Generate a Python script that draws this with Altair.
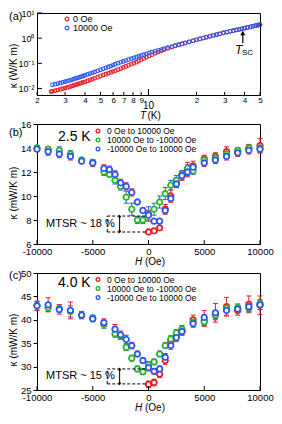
import altair as alt
import pandas as pd

FONT = "Liberation Sans"
RED = "#ec1c24"
GREEN = "#27b427"
BLUE = "#2957f7"

# ---------------- panel (a): kappa vs T ----------------
T_blue = [2.5, 2.6, 2.7, 2.8, 2.9, 3.0, 3.1, 3.2, 3.3, 3.4, 3.5, 3.6, 3.7, 3.8, 3.9, 4.0, 4.15,
          4.3, 4.45, 4.6, 4.8, 5.0, 5.2, 5.4, 5.6, 5.8, 6.0, 6.2, 6.45, 6.7, 6.95, 7.2, 7.5, 7.8,
          8.1, 8.4, 8.7, 9.0, 9.35, 9.7, 10.1, 10.5, 11.0, 11.5, 12.0, 12.5, 13.2, 14, 14.7, 15.5,
          16.2, 17, 18, 19, 20, 21, 22, 23, 24.2, 25.5, 26.7, 28, 29.5, 31, 32.5, 34, 35.5, 37,
          38.5, 40, 41.7, 43.5, 45.2, 47, 48.5, 50]
K_blue = [0.0140, 0.0148, 0.0157, 0.0166, 0.0176, 0.0186, 0.0197, 0.0208, 0.0221, 0.0235, 0.0250,
          0.0265, 0.0281, 0.0298, 0.0315, 0.0333, 0.0361, 0.0390, 0.0422, 0.0455, 0.0502, 0.0550,
          0.0604, 0.0660, 0.0720, 0.0780, 0.0850, 0.0920, 0.101, 0.110, 0.119, 0.129, 0.141,
          0.153, 0.165, 0.178, 0.191, 0.205, 0.221, 0.238, 0.257, 0.277, 0.302, 0.328, 0.354,
          0.381, 0.420, 0.465, 0.510, 0.555, 0.600, 0.650, 0.720, 0.790, 0.865, 0.940, 1.015,
          1.09, 1.19, 1.29, 1.39, 1.49, 1.62, 1.74, 1.87, 1.99, 2.12, 2.24, 2.37, 2.50, 2.66,
          2.82, 2.98, 3.15, 3.30, 3.45]
T_red = [2.45] + T_blue
K_red = [0.0075, 0.0077, 0.0082, 0.0087, 0.0092, 0.0098, 0.0104, 0.0110, 0.0116, 0.0124, 0.0132,
         0.0140, 0.0148, 0.0157, 0.0166, 0.0175, 0.0185, 0.0200, 0.0215, 0.0235, 0.0255, 0.0282,
         0.0310, 0.0340, 0.0370, 0.0402, 0.0435, 0.0472, 0.0510, 0.0563, 0.0620, 0.0683, 0.0750,
         0.0833, 0.0920, 0.101, 0.111, 0.125, 0.140, 0.157, 0.175, 0.197, 0.220, 0.250, 0.280,
         0.312, 0.345, 0.392, 0.440, 0.490, 0.540, 0.588, 0.640, 0.712, 0.782, 0.858, 0.933,
         1.008, 1.083, 1.183, 1.283, 1.383, 1.48, 1.61, 1.73, 1.86, 1.98, 2.11, 2.23, 2.36,
         2.49, 2.65, 2.81, 2.97, 3.14, 3.29, 3.44]
A_SERIES = ["0 Oe", "10000 Oe"]
A_XTICKS = [2, 3, 4, 5, 6, 7, 8, 9, 20, 30, 40, 50]
A_YTICKS = [0.01, 0.1, 1, 10]
T_ARROW = [39]

# ---------------- panel (b): 2.5 K ----------------
H_b = [-10000, -9000, -8000, -7000, -6000, -5000, -4000, -3500, -3000, -2500, -2000, -1500, -1000,
       -500, 0, 500, 1000, 1500, 2000, 2500, 3000, 3500, 4000, 5000, 6000, 7000, 8000, 9000, 10000]
G_b = [14.0, 13.9, 13.8, 13.5, 13.0, 12.8, 12.0, 11.8, 11.3, 10.8, 9.9, 8.9, 8.0, 8.0, 8.5, 8.9,
       9.5, 10.2, 10.9, 11.3, 11.8, 12.3, 12.1, 13.0, 13.2, 13.5, 13.8, 14.0, 14.0]
B_b = [13.9, 13.7, 13.5, 13.3, 12.9, 12.75, 12.3, 12.2, 11.8, 11.1, 10.8, 10.3, 9.5, 8.8, 8.4,
       7.9, 7.9, 8.8, 9.8, 11.0, 11.7, 12.0, 12.4, 12.75, 13.0, 13.3, 13.6, 13.8, 13.9]
R_b = [None] * 14 + [7.0, 7.1, 7.35, 8.9, 10.0, 11.1, 11.7, 12.2, 12.5, 13.1, 13.3, 13.7, 13.7,
                     14.0, 14.2]
Ge_b = [0.2, 0.2, 0.3, 0.3, 0.2, 0.2, 0.3, 0.2, 0.3, 0.3, 0.5, 0.5, 0.3, 0.3, 0.6, 0.5, 0.5, 0.5,
        0.4, 0.4, 0.3, 0.3, 0.3, 0.3, 0.3, 0.3, 0.2, 0.2, 0.2]
Be_b = [0.2, 0.3, 0.3, 0.3, 0.2, 0.3, 0.3, 0.3, 0.3, 0.3, 0.3, 0.3, 0.2, 0.2, 0.4, 0.2, 0.2, 0.3,
        0.3, 0.3, 0.3, 0.3, 0.3, 0.3, 0.3, 0.3, 0.3, 0.3, 0.3]
Re_b = [None] * 14 + [0.2, 0.2, 0.2, 0.4, 0.5, 0.4, 0.4, 0.6, 0.4, 0.3, 0.3, 0.4, 0.3, 0.3, 0.6]

# ---------------- panel (c): 4.0 K ----------------
H_c = [-10000, -9000, -8000, -7000, -6000, -5000, -4000, -3000, -2500, -2000, -1500, -1000, -500,
       0, 500, 1000, 1500, 2000, 2500, 3000, 4000, 5000, 6000, 7000, 8000, 9000, 10000]
G_c = [43.1, 42.6, 42.4, 41.8, 41.0, 40.4, 39.0, 37.0, 36.5, 34.1, 31.8, 29.5, 28.9, 30.4, 31.0,
       32.7, 34.5, 35.9, 37.2, 38.0, 39.5, 39.6, 41.0, 42.5, 42.6, 42.5, 43.5]
B_c = [43.0, 43.2, 42.2, 42.0, 41.0, 40.2, 39.4, 38.0, 36.8, 35.8, 34.5, 32.7, 31.3, 29.8, 29.0,
       29.5, 32.0, 34.5, 36.2, 37.5, 39.2, 40.5, 41.5, 42.0, 42.3, 42.8, 43.2]
R_c = [None] * 13 + [26.2, 26.6, 28.4, 31.3, 35.3, 36.6, 37.6, 40.0, 39.8, 41.0, 42.8, 42.0, 43.3,
                     43.1]
Ge_c = [0.8, 0.8, 0.8, 1.2, 0.7, 0.6, 0.8, 0.7, 0.7, 0.7, 0.6, 0.6, 0.6, 0.7, 0.6, 0.6, 0.6, 0.7,
        0.7, 0.8, 0.8, 0.8, 0.8, 0.8, 0.8, 0.8, 0.8]
Be_c = [1.0, 1.5, 1.0, 1.8, 0.8, 0.6, 0.8, 1.0, 0.8, 0.9, 0.7, 0.6, 0.6, 0.7, 0.6, 0.6, 0.8, 0.8,
        0.8, 0.8, 0.8, 1.5, 2.0, 1.0, 0.8, 1.0, 1.0]
Re_c = [None] * 13 + [0.7, 0.7, 0.7, 0.8, 0.7, 0.7, 0.8, 1.0, 1.2, 1.0, 2.0, 1.0, 1.8, 2.0]

SWEEPS = ["0 Oe to 10000 Oe", "10000 Oe to -10000 Oe", "-10000 Oe to 10000 Oe"]
H_TICKS = [-10000, -5000, 0, 5000, 10000]

W = 223
HA, HB, HC = 82, 120, 117
ONE = pd.DataFrame({"z": [0]})


def txt(s, x, y, size=10, align="left", italic=False, angle=0, baseline="middle"):
    return alt.Chart(ONE).mark_text(
        text=s, font=FONT, fontSize=size, align=align, baseline=baseline, angle=angle,
        fontStyle="italic" if italic else "normal", color="black"
    ).encode(x=alt.value(x), y=alt.value(y))


def circ(x, y, color, size=22, sw=1.5):
    return alt.Chart(ONE).mark_point(shape="circle", fill="white", fillOpacity=1, stroke=color,
                                     strokeWidth=sw, size=size, opacity=1).encode(
        x=alt.value(x), y=alt.value(y))


# ---------- panel (a) ----------
xa_scale = alt.Scale(type="log", domain=[2, 50], nice=False)
ya_scale = alt.Scale(type="log", domain=[0.0055, 10], nice=False)
AXA_X = alt.Axis(
    values=A_XTICKS + [10], tickSize=0, labelPadding=1, labelFontSize=8, title=None, grid=False,
    labelFlush=False, labelOverlap=False, labelBound=False,
    labelExpr="datum.value == 10 ? '' : (datum.value > 10 ? '' + (datum.value / 10) : '' + datum.value)")
AXA_Y = alt.Axis(
    values=A_YTICKS, tickSize=0, labelPadding=3, labelFontSize=9, title=None, grid=False,
    labelOverlap=False,
    labelExpr="datum.value < 0.05 ? '10⁻²' : datum.value < 0.5 ? '10⁻¹' : datum.value < 5 ? '10⁰' : '10¹'")


def xa(f):
    return alt.X(f, type="quantitative", scale=xa_scale, axis=AXA_X)


def ya(f):
    return alt.Y(f, type="quantitative", scale=ya_scale, axis=AXA_Y)


dfa = pd.DataFrame({
    "T": T_red + T_blue,
    "k": K_red + K_blue,
    "s": [A_SERIES[0]] * len(T_red) + [A_SERIES[1]] * len(T_blue),
})
pts_a = alt.Chart(dfa).mark_point(shape="circle", filled=False, size=13, strokeWidth=1.1,
                                  opacity=1).encode(
    x=xa("T"), y=ya("k"),
    color=alt.Color("s:N", scale=alt.Scale(domain=A_SERIES, range=[RED, BLUE]), legend=None),
)
tick_a_x = alt.Chart(pd.DataFrame({"T": A_XTICKS})).mark_rule(color="black").encode(
    x=xa("T"), y=alt.value(HA), y2=alt.value(HA - 3))
tick_a_x10 = alt.Chart(pd.DataFrame({"T": [10]})).mark_rule(color="black").encode(
    x=xa("T"), y=alt.value(HA), y2=alt.value(HA - 6))
tick_a_y = alt.Chart(pd.DataFrame({"k": A_YTICKS})).mark_rule(color="black").encode(
    y=ya("k"), x=alt.value(0), x2=alt.value(5))
arrow_df = pd.DataFrame({"T": T_ARROW})
arrow_shaft = alt.Chart(arrow_df).mark_rule(color="black", strokeWidth=1.2).encode(
    x=xa("T"), y=alt.value(30), y2=alt.value(20))
arrow_head = alt.Chart(arrow_df).mark_point(shape="triangle-up", filled=True, color="black",
                                            size=25, opacity=1).encode(x=xa("T"), y=alt.value(20))
ten_label = alt.Chart(pd.DataFrame({"T": [10]})).mark_text(
    text="10", font=FONT, fontSize=10, align="center", baseline="middle", color="black").encode(
    x=xa("T"), y=alt.value(HA + 11))
pa = alt.layer(
    pts_a, tick_a_x, tick_a_x10, tick_a_y, arrow_shaft, arrow_head, ten_label,
    circ(30, 6, RED, size=14, sw=1.2), circ(30, 15, BLUE, size=14, sw=1.2),
    txt("0 Oe", 36, 6, size=9), txt("10000 Oe", 36, 15, size=9),
    txt("T", 198, 37, size=12, italic=True), txt("SC", 205, 40, size=8),
    txt("T", 103, HA + 21, size=10, italic=True), txt("(K)", 110.5, HA + 21, size=10),
    txt("κ (W/K m)", -23, 53, size=10, align="center", angle=270),
    txt("(a)", -28, 4, size=11),
).properties(width=W, height=HA)


# ---------- panels (b), (c) ----------
def sweep_panel(H, R, G, B, Re, Ge, Be, ydom, yvals, h, tag, temp, mtsr, box, label_ys,
                temp_y, tag_y, mtsr_k):
    rows = []
    for name, vals, errs in zip(SWEEPS, [R, G, B], [Re, Ge, Be]):
        for hv, v, e in zip(H, vals, errs):
            if v is None:
                continue
            rows.append({"H": hv, "k": v, "lo": v - e, "hi": v + e, "s": name})
    df = pd.DataFrame(rows)
    xs = alt.Scale(domain=[-10000, 10000], nice=False, zero=False)
    ys = alt.Scale(domain=ydom, nice=False, zero=False)
    cs = alt.Scale(domain=SWEEPS, range=[RED, GREEN, BLUE])
    AX = alt.Axis(values=H_TICKS, tickSize=0, labelPadding=2, labelFontSize=9.5, title=None,
                  grid=False, labelFlush=False, labelOverlap=False,
                  labelExpr="'' + datum.value")
    AY = alt.Axis(values=yvals, tickSize=4, labelPadding=2, labelFontSize=9.5, title=None,
                  grid=False, labelOverlap=False)

    def xe(f):
        return alt.X(f, type="quantitative", scale=xs, axis=AX)

    def ye(f):
        return alt.Y(f, type="quantitative", scale=ys, axis=AY)

    col = alt.Color("s:N", scale=cs, legend=None)
    base = alt.Chart(df)
    err = base.mark_rule(strokeWidth=1).encode(x=xe("H"), y=ye("lo"), y2="hi:Q", color=col)
    cap_lo = base.mark_tick(orient="horizontal", size=5, thickness=1, opacity=1).encode(
        x=xe("H"), y=ye("lo"), color=col)
    cap_hi = base.mark_tick(orient="horizontal", size=5, thickness=1, opacity=1).encode(
        x=xe("H"), y=ye("hi"), color=col)
    pts = base.mark_point(shape="circle", fill="white", fillOpacity=1, strokeWidth=1.8, size=30,
                          opacity=1).encode(
        x=xe("H"), y=ye("k"), stroke=alt.Stroke("s:N", scale=cs, legend=None))
    ticks = alt.Chart(pd.DataFrame({"H": H_TICKS})).mark_rule(color="black").encode(
        x=xe("H"), y=alt.value(h), y2=alt.value(h - 4))
    x0, x1, xarr, ytop, ybot = box
    dash = dict(color="black", strokeDash=[3, 2], strokeWidth=1)
    d_top = alt.Chart(pd.DataFrame({"H": [x0], "H2": [x1], "k": [ytop]})).mark_rule(**dash).encode(
        x=xe("H"), x2="H2:Q", y=ye("k"))
    d_bot = alt.Chart(pd.DataFrame({"H": [x0], "H2": [x1], "k": [ybot]})).mark_rule(**dash).encode(
        x=xe("H"), x2="H2:Q", y=ye("k"))
    d_left = alt.Chart(pd.DataFrame({"H": [x0], "k": [ybot], "k2": [ytop]})).mark_rule(
        **dash).encode(x=xe("H"), y=ye("k"), y2="k2:Q")
    a_shaft = alt.Chart(pd.DataFrame({"H": [xarr], "k": [ybot], "k2": [ytop]})).mark_rule(
        color="black", strokeWidth=1).encode(x=xe("H"), y=ye("k"), y2="k2:Q")
    a_up = alt.Chart(pd.DataFrame({"H": [xarr], "k": [ytop]})).mark_point(
        shape="triangle-up", filled=True, color="black", size=12, opacity=1).encode(
        x=xe("H"), y=ye("k"))
    a_dn = alt.Chart(pd.DataFrame({"H": [xarr], "k": [ybot]})).mark_point(
        shape="triangle-down", filled=True, color="black", size=12, opacity=1).encode(
        x=xe("H"), y=ye("k"))
    mtsr_txt = alt.Chart(pd.DataFrame({"k": [mtsr_k]})).mark_text(
        text=mtsr, font=FONT, fontSize=11, align="left", baseline="middle", color="black").encode(
        x=alt.value(9), y=ye("k"))
    legend = []
    for name, c, ly in zip(SWEEPS, [RED, GREEN, BLUE], label_ys):
        legend.append(circ(61, ly, c, size=14, sw=1.3))
        legend.append(txt(name, 70, ly, size=8.5))
    return alt.layer(
        err, cap_lo, cap_hi, pts, ticks, d_top, d_bot, d_left, a_shaft, a_up, a_dn, mtsr_txt,
        *legend,
        txt(temp, 21, temp_y, size=14),
        txt("H", 98, h + 17.5, size=10, italic=True), txt("(Oe)", 108, h + 17.5, size=10),
        txt("κ (mW/K m)", -23, int(h * 0.577), size=10, align="center", angle=270),
        txt(tag, -28, tag_y, size=11),
    ).properties(width=W, height=h)


pb = sweep_panel(H_b, R_b, G_b, B_b, Re_b, Ge_b, Be_b, [6, 16], [6, 8, 10, 12, 14, 16], HB,
                 "(b)", "2.5 K", "MTSR ~ 18 %", (-3700, -220, -2590, 8.33, 7.0),
                 [7, 16, 25], 13, 9, 7.7)
pc = sweep_panel(H_c, R_c, G_c, B_c, Re_c, Ge_c, Be_c, [25, 50], [25, 30, 35, 40, 45, 50], HC,
                 "(c)", "4.0 K", "MTSR ~ 15 %", (-3700, -220, -2590, 29.5, 26.3),
                 [6.5, 15.5, 24.5], 10, 3, 28.0)

chart = alt.vconcat(pa, pb, pc, spacing=29, bounds="flush").properties(
    padding=0
).configure_view(stroke="black", strokeWidth=1).configure_axis(
    domainColor="black", tickColor="black", labelColor="black", labelFont=FONT,
    domainWidth=1, tickWidth=1
)

chart.save("out.html", embed_options={"renderer": "svg", "actions": False})
